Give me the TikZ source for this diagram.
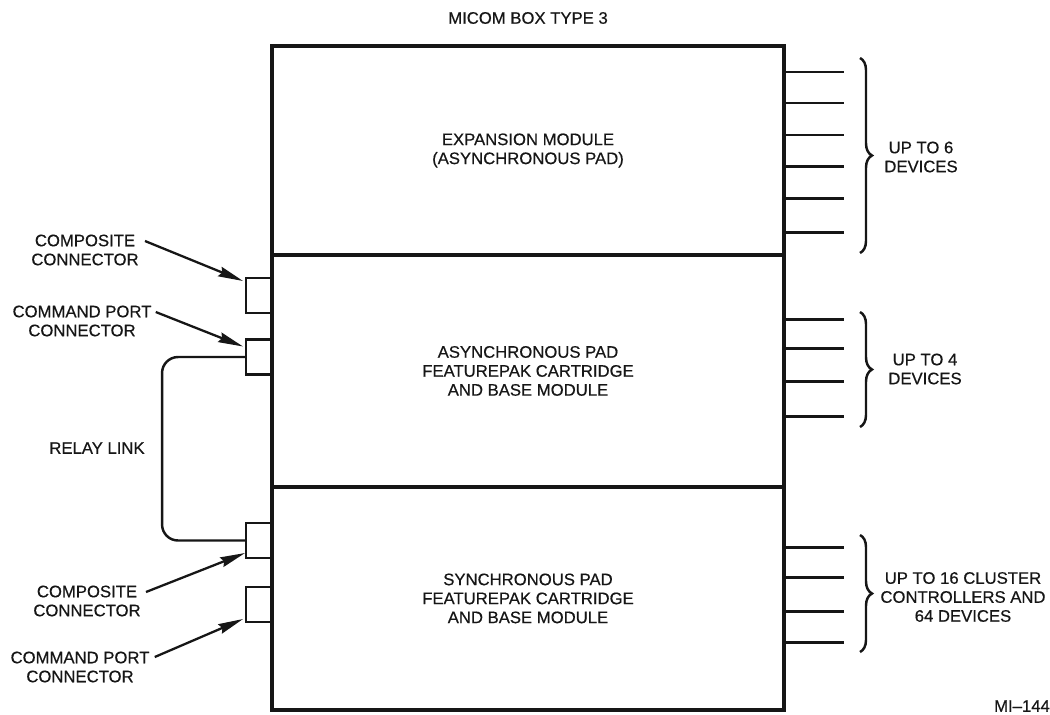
\documentclass[tikz,border=0pt]{standalone}
\usepackage{fontspec}
\setmainfont{Liberation Sans}[FakeBold=0.5]
\usepackage{tikz}
\usetikzlibrary{positioning, arrows.meta, calc, decorations.pathreplacing}
\definecolor{Cink}{RGB}{22,22,22}
\newcommand{\lblfont}{\fontsize{9.5}{10.8}\selectfont}
\tikzset{
  Bsec/.style={draw=Cink, line width=2.4pt, minimum width=10.24cm,
    minimum height=#1, inner sep=0pt, outer sep=0pt,
    align=center, font=\lblfont, text=Cink},
  Bcon/.style={draw=Cink, line width=1.5pt, minimum width=0.52cm,
    minimum height=0.70cm, inner sep=0pt, outer sep=0pt, anchor=east},
  lbl/.style={align=center, font=\lblfont, text=Cink, inner sep=0pt},
  a/.style={-{Stealth[length=0.5cm,width=0.2cm,inset=0.05cm]},
    line width=1.3pt, draw=Cink},
  link/.style={line width=1.4pt, draw=Cink, rounded corners=0.32cm},
  dev/.style={line width=1.7pt, draw=Cink},
  brc/.style={decorate, decoration={brace, amplitude=0.24cm},
    line width=1.4pt, draw=Cink}
}

\begin{document}
\begin{tikzpicture}[x=0.02cm, y=-0.02cm]
\useasboundingbox (0,0) rectangle (1050,714);

% ═══════════════════════════════════════════════════════════════
%  MICOM box, three stacked modules  (x 272..784)
% ═══════════════════════════════════════════════════════════════
\node[lbl] (Ttl) at (528, 18) {MICOM BOX TYPE 3};

\node[Bsec=4.18cm] (Bexp) at (528, 150.5)
  {EXPANSION MODULE\\(ASYNCHRONOUS PAD)};
\node[Bsec=4.64cm, below=0cm of Bexp] (Basync)
  {ASYNCHRONOUS PAD\\FEATUREPAK CARTRIDGE\\AND BASE MODULE};
\node[Bsec=4.46cm, below=0cm of Basync] (Bsync)
  {SYNCHRONOUS PAD\\FEATUREPAK CARTRIDGE\\AND BASE MODULE};

% ═══════════════════════════════════════════════════════════════
%  LEFT  connectors + relay link
% ═══════════════════════════════════════════════════════════════
\node[Bcon] (Ccomp1) at (Basync.west |- 0,295.5) {};
\node[Bcon] (Ccmd1)  at (Basync.west |- 0,357)   {};
\node[Bcon] (Ccomp2) at (Bsync.west  |- 0,540.5) {};
\node[Bcon] (Ccmd2)  at (Bsync.west  |- 0,604.5) {};

\node[lbl] (Lcomp1) at (85, 250)  {COMPOSITE\\CONNECTOR};
\node[lbl] (Lcmd1)  at (82, 321)  {COMMAND PORT\\CONNECTOR};
\node[lbl] (Lrly)   at (97, 448)  {RELAY LINK};
\node[lbl] (Lcomp2) at (87, 601)  {COMPOSITE\\CONNECTOR};
\node[lbl] (Lcmd2)  at (80, 667)  {COMMAND PORT\\CONNECTOR};

\draw[link] (Ccmd1.west) -- ++(-84,0) |- (Ccomp2.west);

\draw[a] ($(Lcomp1.east)+(6,-9)$) -- ($(Ccomp1.north west)+(-3,3)$);
\draw[a] ($(Lcmd1.east)+(4,-9)$)  -- ($(Ccmd1.north west)+(-3,7)$);
\draw[a] ($(Lcomp2.east)+(5,-9)$) -- ($(Ccomp2.south west)+(-1,-5)$);
\draw[a] ($(Lcmd2.east)+(5,-10)$) -- ($(Ccmd2.south west)+(-3,-3)$);

% ═══════════════════════════════════════════════════════════════
%  RIGHT  device lines + braces
% ═══════════════════════════════════════════════════════════════
\foreach \y in {72,103,135,166,198,232}
  \draw[dev] (Bexp.east |- 0,\y) -- ++(60,0);
\foreach \y in {319,348,381,416}
  \draw[dev] (Basync.east |- 0,\y) -- ++(60,0);
\foreach \y in {547,577,611,642}
  \draw[dev] (Bsync.east |- 0,\y) -- ++(60,0);

\draw[brc] (860, 58)  -- (860, 253);
\draw[brc] (860, 312) -- (860, 427);
\draw[brc] (860, 535) -- (860, 652);

\node[lbl] (Rexp)   at (921, 157) {UP TO 6\\DEVICES};
\node[lbl] (Rasync) at (925, 369) {UP TO 4\\DEVICES};
\node[lbl] (Rsync)  at (963, 597) {UP TO 16 CLUSTER\\CONTROLLERS AND\\64 DEVICES};

\node[lbl] (Fig) at (1022, 706) {MI--144};

\end{tikzpicture}
\end{document}
